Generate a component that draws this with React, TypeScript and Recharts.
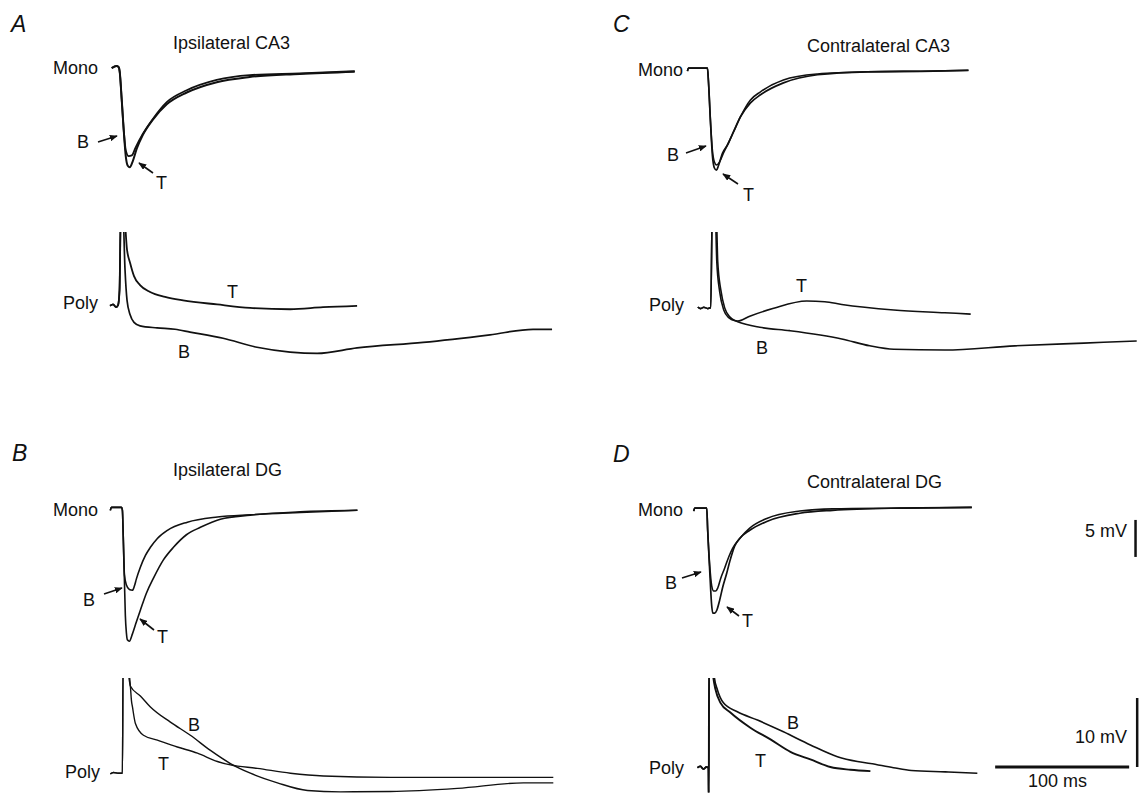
import React from 'react';
import { LineChart, Line, XAxis, YAxis, ReferenceLine } from 'recharts';

type Pt = [number, number]; // [ms after stimulus, mV from baseline]

const PX_MS = 1.34;
const MONO_PX_MV = 7.4;
const POLY_PX_MV = 6.9;

// A: ipsilateral CA3
const monoPreA: Pt[] = [[-6.0, 0], [-2.2, 0.3], [-0.7, 0.1], [0, -0.5]];
const monoA_T: Pt[] = [[1.5, -4.3], [3.0, -8.4], [4.5, -11.9], [6.0, -13.2], [7.5, -13.4], [9.7, -12.6], [12.7, -10.9], [17.2, -9.05], [24.6, -7.0], [35.1, -4.9], [50.0, -3.3], [72.4, -1.9], [97.0, -1.2], [134.3, -0.8], [175.4, -0.5]];
const monoA_B: Pt[] = [[1.5, -4.3], [3.0, -8.4], [4.5, -11.1], [6.7, -11.9], [9.0, -11.8], [11.9, -10.7], [17.2, -8.9], [24.6, -6.9], [35.1, -4.6], [50.0, -3.0], [72.4, -1.6], [97.0, -0.95], [134.3, -0.7], [175.4, -0.4]];
const polyPreA: Pt[] = [[-7.5, -0.1], [-5.2, 0.1], [-3.0, -0.3], [-1.5, 0], [-0.4, 2.2], [0.6, 14]];
const polyA_T: Pt[] = [[2.6, 14], [5.2, 8.0], [7.5, 6.1], [10.4, 4.2], [14.9, 2.9], [22.4, 1.9], [33.6, 1.2], [47.0, 0.7], [72.4, 0.1], [97.0, -0.4], [126.9, -0.6], [151.5, -0.3], [176.9, -0.1]];
const polyA_B: Pt[] = [[2.0, 14], [3.7, 5.1], [5.2, 0.7], [7.5, -1.4], [10.4, -2.5], [14.9, -3.0], [27.6, -3.3], [41.0, -3.5], [52.2, -3.9], [76.9, -4.8], [102.2, -6.1], [126.9, -6.8], [147.0, -7.0], [176.9, -6.2], [226.1, -5.4], [276.1, -4.3], [308.2, -3.5], [322.4, -3.5]];

// C: contralateral CA3
const monoPreC: Pt[] = [[-14.9, -0.4], [-14.2, 0], [0, 0]];
const monoC_T: Pt[] = [[0.7, -1.6], [2.2, -7.0], [3.7, -11.8], [5.2, -13.5], [6.7, -13.8], [8.2, -13.2], [11.2, -11.5], [14.9, -10.4], [19.4, -8.6], [24.6, -6.6], [32.1, -4.7], [39.6, -3.6], [56.7, -2.0], [82.1, -0.9], [119.4, -0.5], [168.7, -0.4], [194.8, -0.3]];
const monoC_B: Pt[] = [[0.7, -1.6], [2.2, -7.0], [3.7, -11.1], [5.2, -12.7], [6.7, -13.1], [9.0, -12.7], [11.9, -11.5], [15.7, -10.1], [20.1, -8.4], [24.6, -6.6], [32.1, -4.3], [39.6, -3.2], [56.7, -1.6], [82.1, -0.8], [119.4, -0.5], [168.7, -0.4], [194.8, -0.3]];
const polyPreC: Pt[] = [[-9.7, 0.1], [-7.5, -0.1], [-5.2, 0.1], [-2.2, -0.1], [-0.7, 0], [0, 0], [1.2, 15]];
const polyC_T: Pt[] = [[3.9, 15], [5.2, 6.7], [7.5, 2.6], [10.4, 0], [14.2, -1.3], [20.1, -1.9], [29.1, -1.2], [46.3, -0.1], [71.6, 1.0], [85.1, 0.9], [97.8, 0.5], [136.6, -0.3], [174.6, -0.7], [194.0, -0.9]];
const polyC_B: Pt[] = [[3.2, 15], [4.5, 6.7], [6.7, 2.3], [9.7, -0.3], [13.4, -1.4], [20.1, -2.0], [36.6, -2.8], [59.0, -3.3], [97.8, -4.5], [118.7, -5.5], [136.6, -6.0], [174.6, -6.1], [226.9, -5.5], [278.4, -5.1], [317.9, -4.8]];

// B: ipsilateral DG
const monoPreB: Pt[] = [[-9.0, -0.3], [-8.2, 0.1], [-0.7, 0.1], [0, -0.3]];
const monoB_T: Pt[] = [[0.7, -4.3], [1.5, -9.7], [2.2, -14.5], [3.0, -16.9], [3.7, -17.8], [5.2, -18.0], [7.5, -17.0], [10.4, -15.4], [13.4, -13.8], [17.9, -11.5], [23.1, -9.5], [30.6, -7.0], [38.1, -5.3], [47.8, -3.6], [58.2, -2.6], [73.1, -1.5], [95.5, -0.95], [132.8, -0.5], [175.4, -0.3]];
const monoB_B: Pt[] = [[0.7, -4.3], [1.5, -9.0], [3.0, -10.4], [5.2, -11.0], [7.5, -11.1], [9.0, -10.5], [10.4, -9.6], [13.4, -8.0], [17.2, -6.4], [20.9, -5.3], [26.1, -4.1], [33.6, -3.0], [48.5, -1.9], [70.9, -1.2], [95.5, -0.9], [132.8, -0.6], [175.4, -0.3]];
const polyPreB: Pt[] = [[-9.0, -0.1], [-6.7, 0.1], [-3.0, 0], [-0.7, 0], [0, 0], [0.5, 16]];
const polyB_T: Pt[] = [[3.7, 16], [6.0, 12.5], [6.7, 10.6], [7.5, 9.6], [9.7, 7.2], [15.7, 5.5], [26.1, 4.8], [41.0, 3.8], [56.0, 2.9], [70.9, 1.7], [80.6, 1.2], [100.7, 0.7], [125.4, 0], [150, -0.4], [200, -0.6], [250, -0.6], [321.6, -0.6]];
const polyB_B: Pt[] = [[3.0, 16], [6.0, 12.6], [13.4, 11.2], [20.9, 9.6], [35.8, 7.4], [50.7, 5.5], [65.7, 3.3], [80.6, 1.4], [95.5, 0], [115.7, -1.4], [138.1, -2.5], [162.7, -2.7], [200, -2.65], [250, -2.2], [299.3, -1.4], [321.6, -1.4]];

// D: contralateral DG
const monoPreD: Pt[] = [[-9.7, -0.4], [-9.0, 0], [0, 0]];
const monoD_T: Pt[] = [[0.7, -3.0], [2.2, -8.4], [3.7, -13.2], [4.5, -14.2], [6.0, -14.2], [7.5, -13.8], [9.7, -12.4], [11.9, -10.7], [14.9, -8.8], [17.2, -7.2], [20.9, -5.1], [24.6, -4.1], [32.1, -3.0], [44.8, -1.8], [69.4, -0.7], [94.0, -0.3], [144.0, 0], [197.8, 0.1]];
const monoD_B: Pt[] = [[0.7, -3.0], [2.2, -7.7], [3.7, -10.5], [5.2, -11.2], [6.7, -11.2], [8.2, -10.8], [10.4, -9.5], [13.4, -8.1], [16.4, -6.6], [19.4, -5.4], [24.6, -4.1], [32.1, -2.7], [44.8, -1.4], [69.4, -0.4], [94.0, -0.1], [144.0, 0], [197.8, 0.1]];
const polyPreD: Pt[] = [[-8.2, 0], [-6.0, 0.2], [-3.7, -0.2], [-1.5, 0.1], [0, 0], [0.25, -5], [0.5, 16]];
const polyD_T: Pt[] = [[2.2, 16], [3.7, 13.0], [5.2, 11.4], [9.0, 9.4], [16.4, 8.0], [31.3, 5.8], [46.3, 4.1], [61.2, 2.3], [76.1, 1.2], [91.0, 0.1], [106, -0.3], [120.9, -0.5]];
const polyD_B: Pt[] = [[3.0, 16], [4.5, 13.0], [6.7, 11.3], [11.2, 9.4], [21.6, 8.1], [36.6, 6.9], [56.0, 5.2], [76.1, 3.3], [96.3, 1.6], [111.2, 0.9], [120.9, 0.6], [138.1, 0], [151.5, -0.4], [176.9, -0.6], [200.7, -0.8]];

// scale bars (ms, mV)
const timeBar: Pt[] = [[214, 0.1], [314, 0.1]];
const polyVBar: Pt[] = [[320, 0.1], [320, 10.1]];
const monoVBar: Pt[] = [[320, -1.6], [320, -6.6]];

interface Trace { pts: Pt[]; w?: number }
interface BoxProps {
  x0: number; y0: number;
  xDom: [number, number]; yDom: [number, number];
  pxMv: number;
  traces: Trace[];
  bars?: { seg: Pt[]; w: number }[];
}

const TraceBox = ({ x0, y0, xDom, yDom, pxMv, traces, bars = [] }: BoxProps) => {
  const left = x0 + xDom[0] * PX_MS;
  const width = (xDom[1] - xDom[0]) * PX_MS;
  const top = y0 - yDom[1] * pxMv;
  const height = (yDom[1] - yDom[0]) * pxMv;
  return (
    <div style={{ position: 'absolute', left, top, width, height }}>
      <LineChart width={width} height={height} margin={{ top: 0, right: 0, bottom: 0, left: 0 }}>
        <XAxis type="number" dataKey="t" domain={xDom} hide allowDataOverflow />
        <YAxis type="number" domain={yDom} hide allowDataOverflow />
        {traces.map((tr, i) => (
          <Line
            key={i}
            data={tr.pts.map(([t, v]) => ({ t, v }))}
            dataKey="v"
            type="monotone"
            stroke="#111"
            strokeWidth={tr.w ?? 1.5}
            dot={false}
            activeDot={false}
            isAnimationActive={false}
          />
        ))}
        {bars.map((b, i) => (
          <ReferenceLine
            key={'bar' + i}
            segment={b.seg.map(([x, y]) => ({ x, y }))}
            stroke="#111"
            strokeWidth={b.w}
          />
        ))}
      </LineChart>
    </div>
  );
};

const FONT = '"Liberation Sans", Arial, Helvetica, sans-serif';

const labels: { x: number; y: number; s: string; end?: boolean }[] = [
  { x: 173, y: 43, s: 'Ipsilateral CA3' },
  { x: 98, y: 68, s: 'Mono', end: true },
  { x: 77, y: 142, s: 'B' },
  { x: 156, y: 183, s: 'T' },
  { x: 98, y: 303, s: 'Poly', end: true },
  { x: 227, y: 292, s: 'T' },
  { x: 178, y: 352, s: 'B' },

  { x: 807, y: 46, s: 'Contralateral CA3' },
  { x: 683, y: 70, s: 'Mono', end: true },
  { x: 667, y: 155, s: 'B' },
  { x: 743, y: 195, s: 'T' },
  { x: 684, y: 305, s: 'Poly', end: true },
  { x: 796, y: 286, s: 'T' },
  { x: 756, y: 348, s: 'B' },

  { x: 173, y: 470, s: 'Ipsilateral DG' },
  { x: 98, y: 510, s: 'Mono', end: true },
  { x: 83, y: 600, s: 'B' },
  { x: 157, y: 637, s: 'T' },
  { x: 100, y: 772, s: 'Poly', end: true },
  { x: 188, y: 725, s: 'B' },
  { x: 158, y: 764, s: 'T' },

  { x: 807, y: 482, s: 'Contralateral DG' },
  { x: 683, y: 510, s: 'Mono', end: true },
  { x: 665, y: 583, s: 'B' },
  { x: 742, y: 621, s: 'T' },
  { x: 684, y: 768, s: 'Poly', end: true },
  { x: 787, y: 723, s: 'B' },
  { x: 755, y: 761, s: 'T' },

  { x: 1127, y: 531, s: '5 mV', end: true },
  { x: 1127, y: 737, s: '10 mV', end: true },
  { x: 1028, y: 781, s: '100 ms' },
];

const arrows: [number, number, number, number][] = [
  [98, 142, 117, 136],
  [153, 173, 139, 163],
  [686, 153, 706, 146],
  [738, 184, 723, 174],
  [104, 594, 122, 588],
  [154, 630, 140, 619],
  [682, 578, 701, 572],
  [739, 616, 727, 607],
];

export default function App() {
  return (
    <div style={{ position: 'absolute', left: 0, top: 0, width: 1139, height: 793, background: '#fff', overflow: 'hidden' }}>
      <TraceBox x0={120} y0={68} xDom={[-8, 180]} yDom={[-15, 1.5]} pxMv={MONO_PX_MV}
        traces={[{ pts: [...monoPreA, ...monoA_T], w: 2 }, { pts: [...monoPreA, ...monoA_B], w: 1.8 }]} />
      <TraceBox x0={120} y0={305} xDom={[-9, 325]} yDom={[-8, 10.6]} pxMv={POLY_PX_MV}
        traces={[{ pts: [...polyPreA, ...polyA_T], w: 1.8 }, { pts: [...polyPreA, ...polyA_B], w: 1.7 }]} />

      <TraceBox x0={707} y0={68} xDom={[-16, 197]} yDom={[-15, 1.5]} pxMv={MONO_PX_MV}
        traces={[{ pts: [...monoPreC, ...monoC_T], w: 1.7 }, { pts: [...monoPreC, ...monoC_B], w: 1.6 }]} />
      <TraceBox x0={711} y0={308} xDom={[-11, 320]} yDom={[-7, 11]} pxMv={POLY_PX_MV}
        traces={[{ pts: [...polyPreC, ...polyC_T], w: 1.6 }, { pts: [...polyPreC, ...polyC_B], w: 1.6 }]} />

      <TraceBox x0={122} y0={508} xDom={[-10, 178]} yDom={[-19.5, 1.5]} pxMv={MONO_PX_MV}
        traces={[{ pts: [...monoPreB, ...monoB_T], w: 1.6 }, { pts: [...monoPreB, ...monoB_B], w: 1.6 }]} />
      <TraceBox x0={122} y0={773} xDom={[-10, 324]} yDom={[-3, 13.8]} pxMv={POLY_PX_MV}
        traces={[{ pts: [...polyPreB, ...polyB_T], w: 1.4 }, { pts: [...polyPreB, ...polyB_B], w: 1.4 }]} />

      <TraceBox x0={707} y0={508} xDom={[-11, 322]} yDom={[-15.5, 1.5]} pxMv={MONO_PX_MV}
        traces={[{ pts: [...monoPreD, ...monoD_T], w: 1.7 }, { pts: [...monoPreD, ...monoD_B], w: 1.6 }]}
        bars={[{ seg: monoVBar, w: 2.5 }]} />
      <TraceBox x0={708} y0={768} xDom={[-10, 322.5]} yDom={[-3.6, 13]} pxMv={POLY_PX_MV}
        traces={[{ pts: [...polyPreD, ...polyD_T], w: 1.9 }, { pts: [...polyPreD, ...polyD_B], w: 1.6 }]}
        bars={[{ seg: timeBar, w: 3.2 }, { seg: polyVBar, w: 2.5 }]} />

      <svg width={1139} height={793} style={{ position: 'absolute', left: 0, top: 0, pointerEvents: 'none' }}>
        <defs>
          <marker id="ah" viewBox="0 0 10 8" refX="9" refY="4" markerWidth="8" markerHeight="6.5" markerUnits="userSpaceOnUse" orient="auto">
            <path d="M0,0 L10,4 L0,8 z" fill="#111" />
          </marker>
        </defs>
        <g fontFamily={FONT} fontStyle="italic" fontSize={23} fill="#111">
          <text x={11} y={32}>A</text>
          <text x={613} y={32}>C</text>
          <text x={12} y={461}>B</text>
          <text x={613} y={462}>D</text>
        </g>
        <g fontFamily={FONT} fontSize={18} fill="#111">
          {labels.map((l, i) => (
            <text key={i} x={l.x} y={l.y} dominantBaseline="central" textAnchor={l.end ? 'end' : 'start'}>{l.s}</text>
          ))}
        </g>
        {arrows.map(([x1, y1, x2, y2], i) => (
          <line key={i} x1={x1} y1={y1} x2={x2} y2={y2} stroke="#111" strokeWidth={1.6} markerEnd="url(#ah)" />
        ))}
      </svg>
    </div>
  );
}
